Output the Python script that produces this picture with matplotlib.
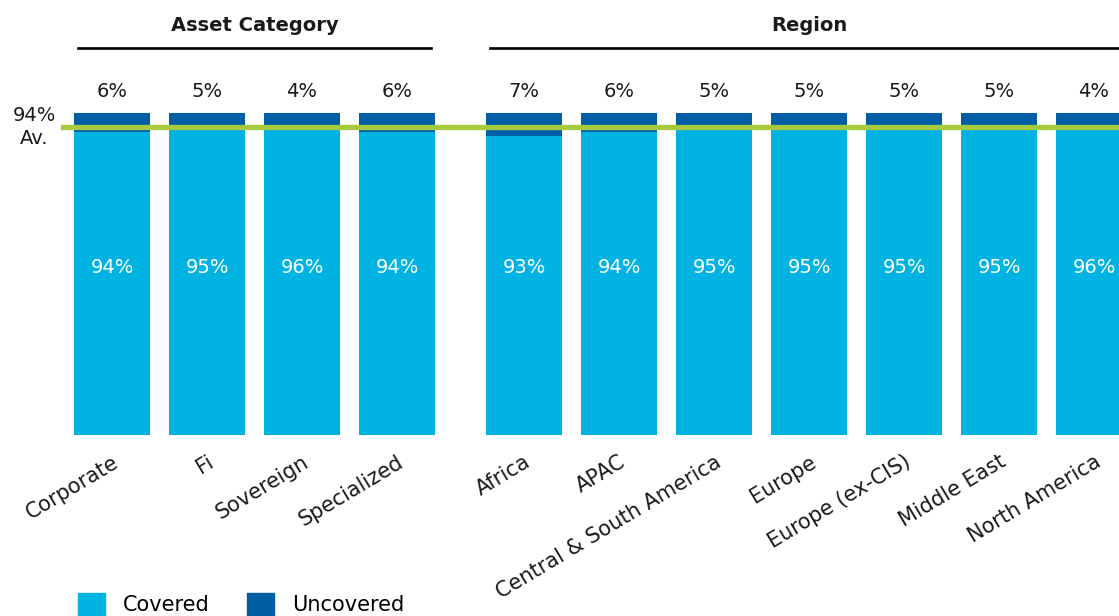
import matplotlib
matplotlib.use('Agg')
import matplotlib.pyplot as plt
from matplotlib.patches import Patch

# data
asset_cats = ['Corporate', 'Fi', 'Sovereign', 'Specialized']
asset_covered = [94, 95, 96, 94]
asset_uncovered = [6, 5, 4, 6]

regions = ['Africa', 'APAC', 'Central & South America', 'Europe',
           'Europe (ex-CIS)', 'Middle East', 'North America']
region_covered = [93, 94, 95, 95, 95, 95, 96]
region_uncovered = [7, 6, 5, 5, 5, 5, 4]

avg_label = '94%\nAv.'
avg_level = 95.6  # where the reference draws the average line

light = '#00B3E3'
dark = '#005EA4'
green = '#A7C93D'
txt = '#1a1a1a'

plt.rcParams['font.family'] = ['DejaVu Sans']

fig = plt.figure(figsize=(11.19, 6.16), dpi=100)
ax = fig.add_axes([0, 181 / 616, 1, 435 / 616])

gap = 1.337  # extra space between the two groups
xa = list(range(len(asset_cats)))
xr = [len(asset_cats) - 1 + gap + i for i in range(len(regions))]
xs = xa + xr
covered = asset_covered + region_covered
uncovered = asset_uncovered + region_uncovered
labels = asset_cats + regions

ax.bar(xs, covered, width=0.8, color=light, zorder=2)
ax.bar(xs, uncovered, bottom=covered, width=0.8, color=dark, zorder=2)

for x, c, u in zip(xs, covered, uncovered):
    ax.text(x, 52, f'{c}%', ha='center', va='center', color='white', fontsize=14, zorder=4)
    ax.text(x, 106.8, f'{u}%', ha='center', va='center', color=txt, fontsize=14)

# average line
ax.plot([-0.52, 11], [avg_level, avg_level], color=green, lw=3.8, zorder=3, clip_on=False)
ax.text(-0.82, avg_level, avg_label, ha='center', va='center', color=txt,
        fontsize=14, linespacing=1.25)

# group headers
ax.plot([xa[0] - 0.36, xa[-1] + 0.36], [120.2, 120.2], color='black', lw=1.9, clip_on=False)
ax.text((xa[0] + xa[-1]) / 2, 127.3, 'Asset Category', ha='center', va='center',
        fontsize=14, fontweight='bold', color=txt)
ax.plot([xr[0] - 0.36, xr[-1] + 0.36], [120.2, 120.2], color='black', lw=1.9, clip_on=False)
ax.text((xr[0] + xr[-1]) / 2, 127.3, 'Region', ha='center', va='center',
        fontsize=14, fontweight='bold', color=txt)

ax.set_xlim(-1.179, 10.6)
ax.set_ylim(0, 135.1)
ax.set_xticks(xs)
ax.set_xticklabels(labels, rotation=31, ha='right', rotation_mode='anchor',
                   fontsize=15, color=txt)
ax.tick_params(axis='x', length=0, pad=12)
ax.set_yticks([])
for s in ax.spines.values():
    s.set_visible(False)

handles = [Patch(color=light, label='Covered'), Patch(color=dark, label='Uncovered')]
fig.legend(handles=handles, loc='upper left', bbox_to_anchor=(78 / 1119, 1 - 593 / 616),
           ncol=2, frameon=False, fontsize=15, handlelength=1.3, handleheight=1.3,
           handletextpad=0.85, columnspacing=1.8, borderpad=0, borderaxespad=0)

fig.savefig('out.png', dpi=100)
